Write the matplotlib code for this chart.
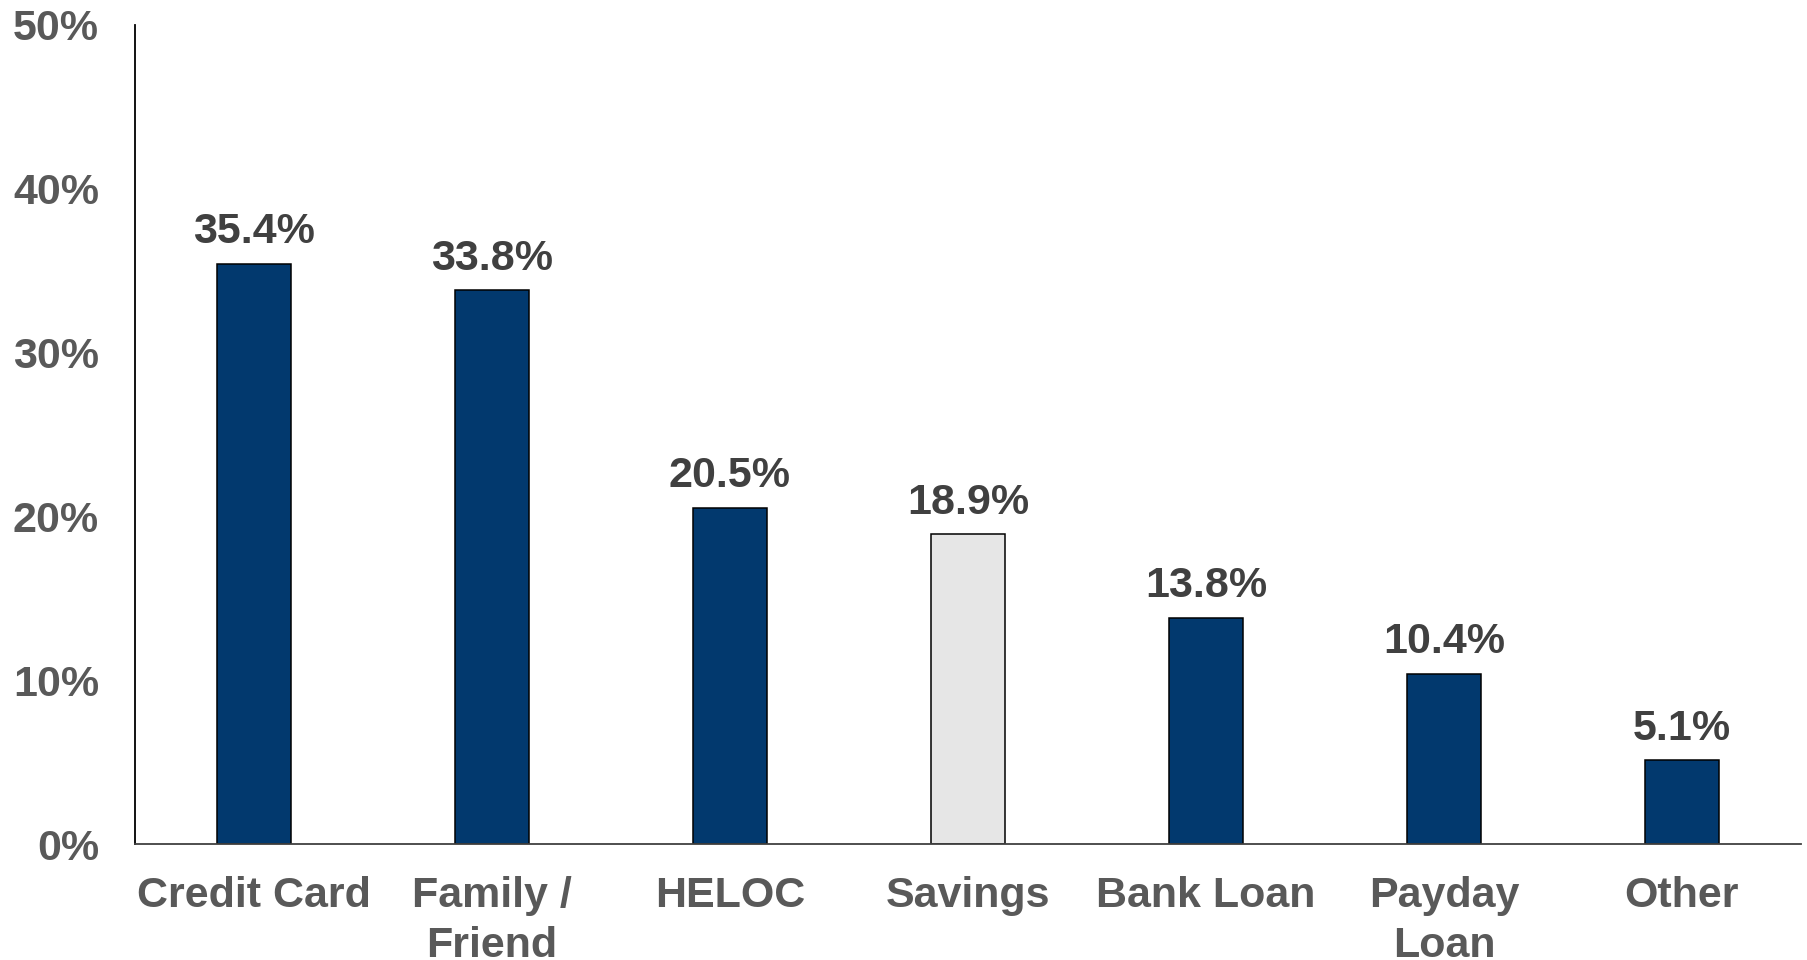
import matplotlib.pyplot as plt
from matplotlib.ticker import FuncFormatter

# Sources used to cover the expense
categories = ["Credit Card", "Family /\nFriend", "HELOC", "Savings", "Bank Loan", "Payday\nLoan", "Other"]
shares = [35.4, 33.8, 20.5, 18.9, 13.8, 10.4, 5.1]
bar_colors = ["#02396E", "#02396E", "#02396E", "#E6E6E6", "#02396E", "#02396E", "#02396E"]
y_ticks = [0, 10, 20, 30, 40, 50]

plt.rcParams['font.family'] = ['Liberation Sans', 'DejaVu Sans']
plt.rcParams['font.weight'] = 'bold'

fig = plt.figure(figsize=(18.08, 9.6), dpi=100)
ax = fig.add_axes([135 / 1808, 1 - 844 / 960, 1666 / 1808, (844 - 25) / 960])

x = range(len(categories))
bars = ax.bar(x, shares, width=0.315, color=bar_colors, edgecolor="black", linewidth=1.1)

for b, v in zip(bars, shares):
    ax.annotate(f"{v:.1f}%", (b.get_x() + b.get_width() / 2, v),
                xytext=(0, 8.5), textcoords="offset points",
                ha="center", va="bottom", fontsize=31, fontweight="bold", color="#404040")

ax.set_xlim(-0.5, len(categories) - 0.5)
ax.set_ylim(0, 50)
ax.set_yticks(y_ticks)
ax.yaxis.set_major_formatter(FuncFormatter(lambda v, p: f"{v:.0f}%"))
ax.set_xticks(list(x))
ax.set_xticklabels(categories, linespacing=1.32)

ax.tick_params(axis="y", length=0, pad=26, labelsize=31, labelcolor="#595959")
ax.tick_params(axis="x", length=0, pad=23, labelsize=31, labelcolor="#595959")
for lbl in ax.get_xticklabels() + ax.get_yticklabels():
    lbl.set_fontweight("bold")

for side in ("top", "right"):
    ax.spines[side].set_visible(False)
ax.spines["left"].set_color("black")
ax.spines["left"].set_linewidth(1.3)
ax.spines["bottom"].set_color("#404040")
ax.spines["bottom"].set_linewidth(1.3)

fig.savefig("out.png", dpi=100)
